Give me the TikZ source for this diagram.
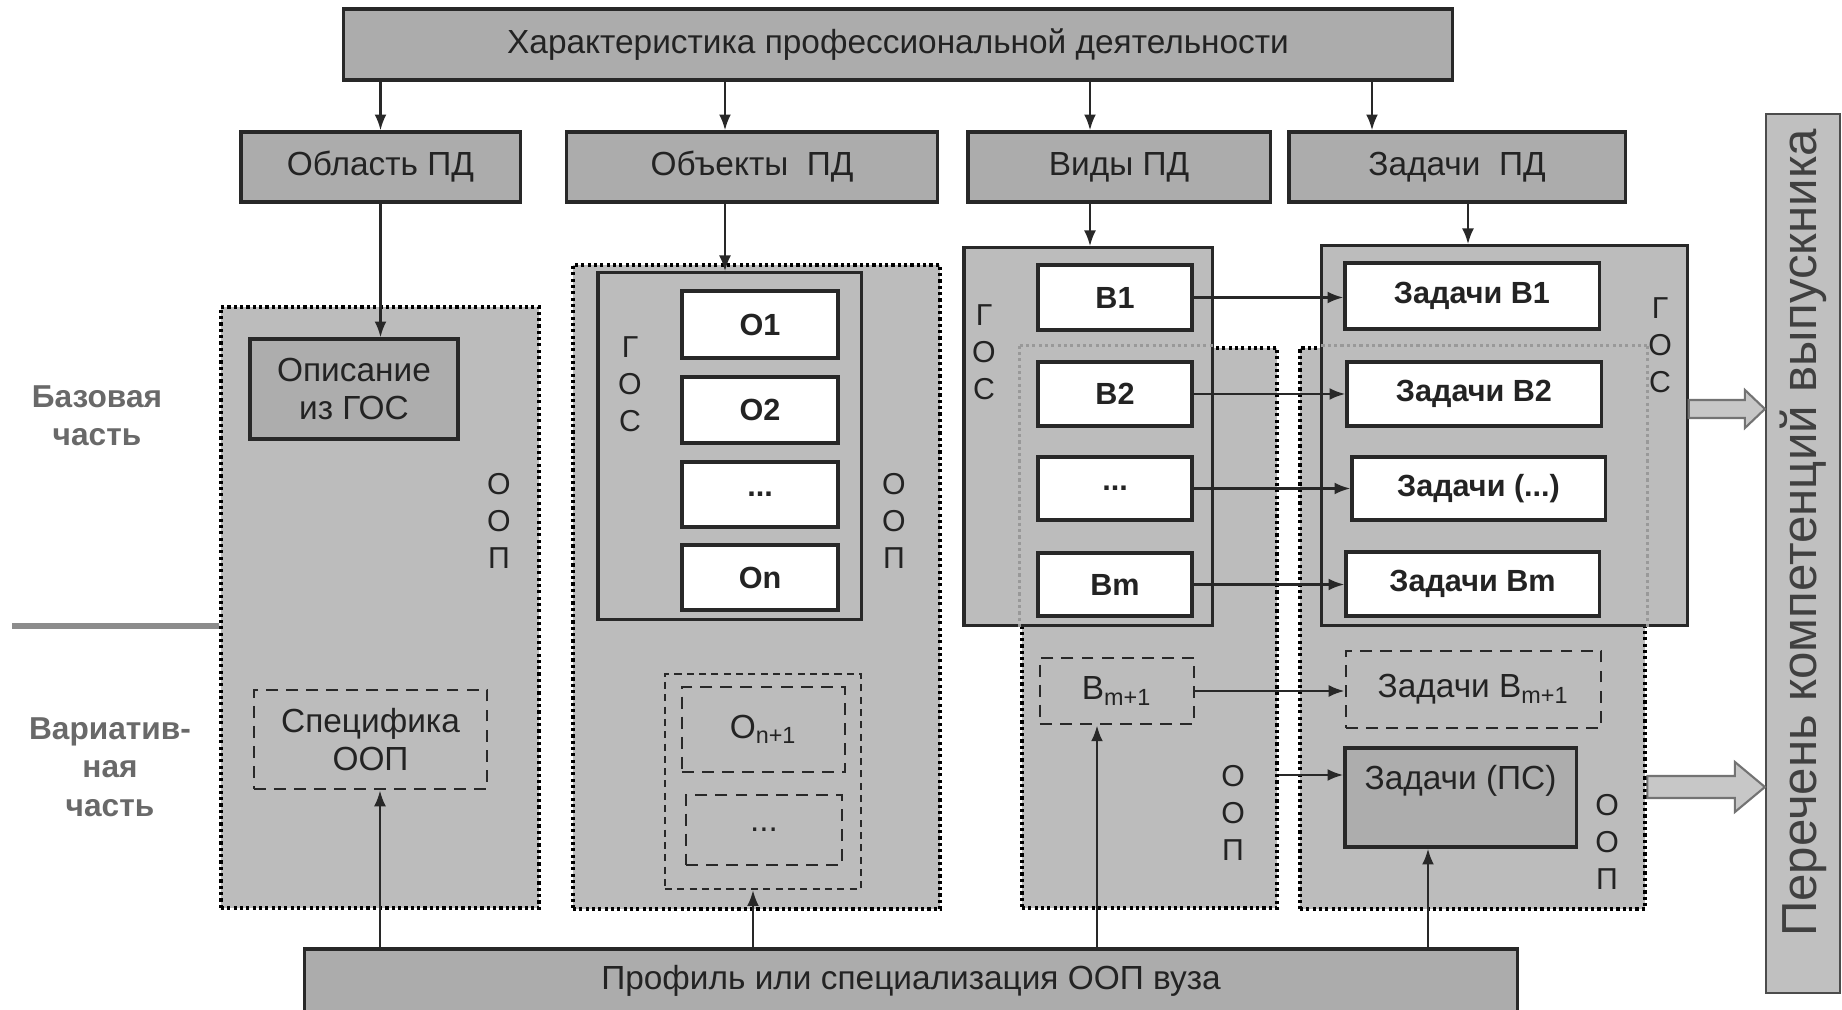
\documentclass[tikz,border=0pt]{standalone}
\usepackage{fontspec}
\setmainfont{Liberation Sans}
\usetikzlibrary{arrows.meta,calc}
\definecolor{boxgray}{RGB}{172,172,172}
\definecolor{panelgray}{RGB}{188,188,188}
\definecolor{pergray}{RGB}{192,192,192}
\definecolor{linec}{RGB}{40,40,40}
\definecolor{txtc}{RGB}{35,35,35}
\definecolor{lblc}{RGB}{105,105,105}
\newcommand\fnthead{\fontsize{9.5}{10.8}\selectfont}
\newcommand\fntbold{\bfseries\fontsize{8.7}{10}\selectfont}
\newcommand\fntstack{\fontsize{8.6}{10.5}\selectfont}
\newcommand\fntlab{\bfseries\fontsize{9}{10.9}\selectfont}
\newcommand\fntper{\fontsize{14}{16}\selectfont}
\begin{document}
\begin{tikzpicture}[x=0.01cm,y=-0.01cm,
  hbox/.style={draw=linec, line width=0.9pt, fill=boxgray, inner sep=0pt, font=\fnthead, text=txtc, align=center},
  wbox/.style={draw=linec, line width=0.9pt, fill=white, inner sep=0pt, font=\fntbold, text=txtc},
  gbox/.style={draw=linec, line width=0.9pt, fill=panelgray, inner sep=0pt},
  panel/.style={draw=black, line width=1.3pt, dash pattern=on 0.9pt off 0.9pt, fill=panelgray, inner sep=0pt},
  faintdot/.style={draw=black!40, line width=1pt, dash pattern=on 0.9pt off 0.9pt},
  dbox/.style={draw=linec, line width=0.8pt, dash pattern=on 3.4pt off 2.3pt, inner sep=0pt, font=\fnthead, text=txtc, align=center},
  arr/.style={draw=linec, line width=0.7pt, -{Latex[length=4.5pt,width=3.4pt]}},
  stack/.style={align=center, font=\fntstack, inner sep=0pt, text=txtc},
  sidelbl/.style={align=center, font=\fntlab, inner sep=0pt, text=lblc},
  divider/.style={draw=black!45, line width=1.8pt},
  blk/.style={draw=black!55, line width=0.6pt, fill=black!22}]
\useasboundingbox (0,0) rectangle (1842,1010);

% top row
\node[hbox, minimum width=11.08cm, minimum height=0.71cm] (top) at (898,44.5) {Характеристика профессиональной деятельности};
\node[hbox, minimum width=2.79cm, minimum height=0.70cm] (obl) at (380.5,167) {Область ПД};
\node[hbox, minimum width=3.70cm, minimum height=0.70cm] (obj) at (752,167) {Объекты\ \ ПД};
\node[hbox, minimum width=3.02cm, minimum height=0.70cm] (vid) at (1119,167) {Виды ПД};
\node[hbox, minimum width=3.36cm, minimum height=0.70cm] (zad) at (1457,167) {Задачи\ \ ПД};

% panels
\node[panel, minimum width=3.18cm, minimum height=6.01cm] (p1) at (380,607.5) {};
\node[panel, minimum width=3.67cm, minimum height=6.44cm] (p2) at (756.5,587) {};
\node[panel, minimum width=2.55cm, minimum height=5.60cm] (p3) at (1149.5,628) {};
\node[panel, minimum width=3.45cm, minimum height=5.61cm] (p4) at (1472.5,628.5) {};

% GOS boxes
\node[gbox, minimum width=2.63cm, minimum height=3.46cm] (gos2) at (729.5,446) {};
\node[gbox, minimum width=2.48cm, minimum height=3.77cm] (gos3) at (1088,436.5) {};
\node[gbox, minimum width=3.65cm, minimum height=3.79cm] (gos4) at (1504.5,435.5) {};
\draw[faintdot] (p3.north west) -- (p3.north west |- gos3.south);
\draw[faintdot] (p3.north west) -- (p3.north west -| gos3.east);
\draw[faintdot] (p4.north east) -- (p4.north east |- gos4.south);
\draw[faintdot] (p4.north east) -- (p4.north east -| gos4.west);

% panel 1
\node[hbox, fill=panelgray!92!black, minimum width=2.08cm, minimum height=1.00cm] (opis) at (354,389) {Описание\\из ГОС};
\node[dbox, minimum width=2.33cm, minimum height=0.99cm] (spec) at (370.5,739.5) {Специфика\\ООП};
\node[stack] (p1l) at (499,521) {О\\О\\П};

% panel 2
\node[wbox, minimum width=1.56cm, minimum height=0.67cm] (o1) at (760,324.5) {О1};
\node[wbox, minimum width=1.56cm, minimum height=0.66cm] (o2) at (760,410) {О2};
\node[wbox, minimum width=1.56cm, minimum height=0.65cm] (od) at (760,494.5) {...};
\node[wbox, minimum width=1.56cm, minimum height=0.65cm] (on) at (760,577.5) {Оn};
\node[stack] (g2l) at (630,384) {Г\\О\\С};
\node[stack] (p2l) at (894,521) {О\\О\\П};
\node[dbox, line width=0.6pt, dash pattern=on 2pt off 1.5pt, minimum width=1.96cm, minimum height=2.15cm] (ovar) at (763,781.5) {};
\node[dbox, minimum width=1.63cm, minimum height=0.85cm] (on1) at (763.5,729.5) {О\textsubscript{n+1}};
\node[dbox, minimum width=1.56cm, minimum height=0.70cm] (od2) at (764,830) {...};

% panel 3
\node[wbox, minimum width=1.54cm, minimum height=0.65cm] (b1) at (1115,297.5) {В1};
\node[wbox, minimum width=1.54cm, minimum height=0.64cm] (b2) at (1115,394) {В2};
\node[wbox, minimum width=1.54cm, minimum height=0.63cm] (bd) at (1115,488.5) {...};
\node[wbox, minimum width=1.54cm, minimum height=0.63cm] (bm) at (1115,584.5) {Вm};
\node[stack] (g3l) at (984,352) {Г\\О\\С};
\node[dbox, minimum width=1.54cm, minimum height=0.66cm] (bm1) at (1117,691) {В\textsubscript{m+1}};
\node[stack] (p3l) at (1233,813) {О\\О\\П};

% panel 4
\node[wbox, minimum width=2.54cm, minimum height=0.66cm] (zb1) at (1472,296) {Задачи В1};
\node[wbox, minimum width=2.54cm, minimum height=0.64cm] (zb2) at (1474,394) {Задачи В2};
\node[wbox, minimum width=2.53cm, minimum height=0.63cm] (zbd) at (1478.5,488.5) {Задачи (...)};
\node[wbox, minimum width=2.53cm, minimum height=0.64cm] (zbm) at (1472.5,584) {Задачи Вm};
\node[stack] (g4l) at (1660,345) {Г\\О\\С};
\node[dbox, minimum width=2.55cm, minimum height=0.77cm] (zbm1) at (1473.5,689.5) {Задачи В\textsubscript{m+1}};
\node[hbox, fill=panelgray!92!black, minimum width=2.31cm, minimum height=0.99cm, text height=0.25cm, text depth=0.40cm] (zps) at (1460.5,797.5) {Задачи (ПС)};
\node[stack] (p4l) at (1607,842) {О\\О\\П};

% right box
\node[draw=black!70, line width=0.6pt, fill=pergray, minimum width=0.74cm, minimum height=8.79cm, inner sep=0pt] (per) at (1803,553.5) {};
\node[rotate=90, font=\fntper, text=black!75, inner sep=0pt] (pertxt) at (1803,533) {Перечень компетенций выпускника};

% bottom box
\node[hbox, minimum width=12.12cm, minimum height=0.72cm, text height=0.25cm, text depth=0.17cm] (prof) at (911,985) {Профиль или специализация ООП вуза};

% side labels
\node[sidelbl] (baz) at (97,416) {Базовая\\часть};
\node[sidelbl] (var) at (110,767) {Вариатив-\\ная\\часть};
\coordinate (divL) at (12,626);
\draw[divider] (divL) -- (divL -| p1.west);

% arrows from top
\draw[arr] (top.south -| obl.north) -- (obl.north);
\draw[arr] (top.south -| 725,0) -- (obj.north -| 725,0);
\draw[arr] (top.south -| 1090,0) -- (vid.north -| 1090,0);
\draw[arr] (top.south -| 1372,0) -- (zad.north -| 1372,0);
\draw[arr] (obl.south) -- (obl.south |- opis.north);
\draw[arr] (obj.south -| 725,0) -- (gos2.north -| 725,0);
\draw[arr] (vid.south -| 1090,0) -- (gos3.north -| 1090,0);
\draw[arr] (zad.south -| 1468,0) -- (gos4.north -| 1468,0);

% horizontal arrows
\draw[arr] (b1.east) -- (b1.east -| zb1.west);
\draw[arr] (b2.east) -- (b2.east -| zb2.west);
\draw[arr] (bd.east) -- (bd.east -| zbd.west);
\draw[arr] (bm.east) -- (bm.east -| zbm.west);
\draw[arr] (bm1.east) -- (bm1.east -| zbm1.west);
\draw[arr] (p3.east |- 0,775) -- (zps.west |- 0,775);

% arrows from bottom
\draw[arr] (prof.north -| 380,0) -- (spec.south -| 380,0);
\draw[arr] (prof.north -| 753,0) -- (ovar.south -| 753,0);
\draw[arr] (prof.north -| 1097,0) -- (bm1.south -| 1097,0);
\draw[arr] (prof.north -| 1428,0) -- (zps.south -| 1428,0);

% block arrows
\path (gos4.east |- 0,409) coordinate (ua0) (per.west |- 0,409) coordinate (ua1);
\draw[blk] ($(ua0)+(0,-9)$) -- ($(ua1)+(-20,-9)$) -- ($(ua1)+(-20,-19)$) -- (ua1)
  -- ($(ua1)+(-20,19)$) -- ($(ua1)+(-20,9)$) -- ($(ua0)+(0,9)$) -- cycle;
\path (p4.east |- 0,787) coordinate (la0) (per.west |- 0,787) coordinate (la1);
\draw[blk] ($(la0)+(0,-11)$) -- ($(la1)+(-30,-11)$) -- ($(la1)+(-30,-25)$) -- (la1)
  -- ($(la1)+(-30,25)$) -- ($(la1)+(-30,11)$) -- ($(la0)+(0,11)$) -- cycle;
\end{tikzpicture}
\end{document}
